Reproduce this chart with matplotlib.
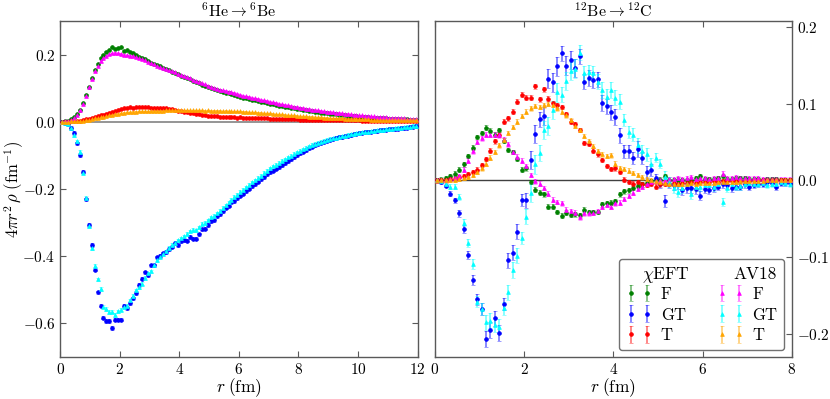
#!/usr/bin/env python

import numpy as np
import matplotlib as mpl
import matplotlib.pyplot as plt
from matplotlib.ticker import MultipleLocator
from matplotlib.lines import Line2D

mpl.rc('font', family='serif', serif=['cmr10'], size=11)
mpl.rc('mathtext', fontset='cm')
mpl.rc('axes', edgecolor='0.35', linewidth=1.0, unicode_minus=True)
mpl.rc('axes.formatter', use_mathtext=True)
mpl.rc(('xtick', 'ytick'), direction='in', color='0.35', labelcolor='k')
mpl.rc('xtick.major', size=4)
mpl.rc('ytick.major', size=4)

# ---------------- 6He -> 6Be (bin centres 0.05 ... 11.95 fm)
r_he = np.arange(120) * 0.1 + 0.05

he_F_chi = [
    0.000, 0.001, 0.003, 0.007, 0.013, 0.022, 0.036, 0.055, 0.080, 0.105,
    0.130, 0.155, 0.172, 0.190, 0.200, 0.208, 0.213, 0.222, 0.218, 0.220,
    0.222, 0.211, 0.213, 0.208, 0.204, 0.199, 0.194, 0.190, 0.186, 0.181,
    0.176, 0.172, 0.168, 0.165, 0.161, 0.157, 0.153, 0.149, 0.146, 0.142,
    0.138, 0.134, 0.131, 0.127, 0.123, 0.119, 0.115, 0.111, 0.107, 0.103,
    0.100, 0.097, 0.094, 0.091, 0.089, 0.087, 0.085, 0.083, 0.080, 0.077,
    0.075, 0.072, 0.070, 0.068, 0.066, 0.064, 0.062, 0.060, 0.058, 0.056,
    0.054, 0.052, 0.050, 0.048, 0.046, 0.045, 0.043, 0.041, 0.040, 0.038,
    0.037, 0.035, 0.034, 0.032, 0.031, 0.030, 0.028, 0.027, 0.026, 0.025,
    0.024, 0.023, 0.022, 0.021, 0.020, 0.019, 0.018, 0.017, 0.017, 0.016,
    0.015, 0.014, 0.014, 0.013, 0.012, 0.012, 0.011, 0.011, 0.010, 0.010,
    0.009, 0.009, 0.008, 0.008, 0.007, 0.007, 0.007, 0.006, 0.006, 0.006,
]
he_GT_chi = [
    0.000, -0.004, -0.008, -0.018, -0.033, -0.064, -0.099, -0.149, -0.231, -0.308,
    -0.367, -0.441, -0.508, -0.548, -0.584, -0.594, -0.594, -0.614, -0.590, -0.590,
    -0.590, -0.549, -0.555, -0.541, -0.526, -0.510, -0.486, -0.467, -0.449, -0.456,
    -0.428, -0.428, -0.404, -0.400, -0.392, -0.388, -0.379, -0.372, -0.362, -0.368,
    -0.356, -0.353, -0.354, -0.343, -0.348, -0.348, -0.335, -0.320, -0.318, -0.307,
    -0.296, -0.294, -0.282, -0.275, -0.267, -0.256, -0.250, -0.240, -0.236, -0.228,
    -0.220, -0.214, -0.206, -0.199, -0.192, -0.186, -0.178, -0.171, -0.164, -0.157,
    -0.151, -0.146, -0.140, -0.135, -0.129, -0.123, -0.117, -0.111, -0.105, -0.099,
    -0.094, -0.089, -0.084, -0.079, -0.074, -0.069, -0.065, -0.062, -0.059, -0.056,
    -0.053, -0.050, -0.048, -0.046, -0.045, -0.043, -0.041, -0.039, -0.037, -0.035,
    -0.034, -0.032, -0.031, -0.030, -0.029, -0.028, -0.027, -0.025, -0.024, -0.023,
    -0.022, -0.022, -0.021, -0.020, -0.019, -0.018, -0.017, -0.015, -0.014, -0.013,
]
he_T_chi = [
    0.000, 0.000, 0.000, 0.001, 0.001, 0.002, 0.003, 0.005, 0.007, 0.009,
    0.012, 0.014, 0.016, 0.019, 0.021, 0.024, 0.027, 0.030, 0.032, 0.035,
    0.037, 0.040, 0.041, 0.043, 0.042, 0.044, 0.045, 0.044, 0.043, 0.043,
    0.042, 0.042, 0.042, 0.041, 0.040, 0.041, 0.039, 0.037, 0.035, 0.033,
    0.031, 0.030, 0.028, 0.027, 0.025, 0.023, 0.022, 0.021, 0.020, 0.018,
    0.017, 0.017, 0.016, 0.015, 0.015, 0.014, 0.014, 0.013, 0.013, 0.012,
    0.013, 0.012, 0.012, 0.011, 0.011, 0.011, 0.010, 0.010, 0.010, 0.010,
    0.009, 0.009, 0.009, 0.008, 0.008, 0.008, 0.007, 0.007, 0.007, 0.007,
    0.006, 0.006, 0.006, 0.006, 0.006, 0.005, 0.005, 0.005, 0.005, 0.005,
    0.005, 0.005, 0.004, 0.004, 0.004, 0.004, 0.004, 0.004, 0.004, 0.004,
    0.004, 0.003, 0.003, 0.003, 0.003, 0.003, 0.003, 0.003, 0.003, 0.003,
    0.003, 0.003, 0.002, 0.002, 0.002, 0.002, 0.002, 0.002, 0.002, 0.002,
]
he_F_av18 = [
    0.000, 0.001, 0.003, 0.006, 0.012, 0.021, 0.034, 0.052, 0.077, 0.103,
    0.127, 0.150, 0.167, 0.181, 0.190, 0.197, 0.201, 0.204, 0.205, 0.204,
    0.202, 0.199, 0.198, 0.197, 0.197, 0.194, 0.190, 0.187, 0.183, 0.179,
    0.175, 0.171, 0.167, 0.164, 0.160, 0.157, 0.153, 0.150, 0.147, 0.143,
    0.140, 0.137, 0.133, 0.130, 0.126, 0.122, 0.119, 0.115, 0.112, 0.108,
    0.105, 0.102, 0.099, 0.096, 0.094, 0.092, 0.090, 0.088, 0.086, 0.083,
    0.081, 0.078, 0.076, 0.074, 0.072, 0.070, 0.068, 0.066, 0.064, 0.062,
    0.060, 0.058, 0.056, 0.054, 0.052, 0.050, 0.049, 0.047, 0.045, 0.044,
    0.042, 0.041, 0.039, 0.038, 0.036, 0.035, 0.034, 0.032, 0.031, 0.030,
    0.029, 0.028, 0.027, 0.026, 0.025, 0.024, 0.023, 0.022, 0.021, 0.020,
    0.019, 0.019, 0.018, 0.017, 0.016, 0.016, 0.015, 0.014, 0.014, 0.013,
    0.012, 0.012, 0.011, 0.011, 0.010, 0.010, 0.009, 0.009, 0.008, 0.008,
]
he_GT_av18 = [
    0.000, -0.003, -0.008, -0.019, -0.040, -0.058, -0.090, -0.152, -0.226, -0.310,
    -0.376, -0.429, -0.469, -0.498, -0.551, -0.558, -0.567, -0.566, -0.576, -0.565,
    -0.560, -0.552, -0.548, -0.532, -0.518, -0.502, -0.492, -0.482, -0.465, -0.452,
    -0.446, -0.428, -0.412, -0.402, -0.394, -0.386, -0.376, -0.366, -0.360, -0.353,
    -0.347, -0.341, -0.334, -0.326, -0.322, -0.323, -0.314, -0.305, -0.302, -0.294,
    -0.285, -0.280, -0.273, -0.265, -0.257, -0.249, -0.240, -0.232, -0.224, -0.217,
    -0.209, -0.202, -0.195, -0.188, -0.180, -0.174, -0.166, -0.160, -0.153, -0.146,
    -0.139, -0.133, -0.128, -0.123, -0.117, -0.112, -0.106, -0.101, -0.096, -0.091,
    -0.086, -0.082, -0.077, -0.073, -0.069, -0.066, -0.063, -0.059, -0.057, -0.054,
    -0.051, -0.049, -0.047, -0.045, -0.043, -0.041, -0.039, -0.037, -0.036, -0.034,
    -0.032, -0.031, -0.030, -0.029, -0.028, -0.026, -0.025, -0.024, -0.023, -0.022,
    -0.021, -0.020, -0.019, -0.018, -0.017, -0.016, -0.015, -0.014, -0.013, -0.012,
]
he_T_av18 = [
    0.000, 0.000, 0.000, 0.001, 0.001, 0.002, 0.002, 0.003, 0.005, 0.006,
    0.008, 0.010, 0.011, 0.013, 0.015, 0.017, 0.019, 0.021, 0.022, 0.024,
    0.025, 0.027, 0.028, 0.029, 0.030, 0.030, 0.031, 0.031, 0.032, 0.032,
    0.032, 0.033, 0.033, 0.033, 0.033, 0.034, 0.034, 0.034, 0.034, 0.035,
    0.035, 0.035, 0.034, 0.035, 0.034, 0.034, 0.034, 0.034, 0.033, 0.034,
    0.033, 0.033, 0.033, 0.033, 0.032, 0.033, 0.032, 0.032, 0.032, 0.031,
    0.031, 0.030, 0.030, 0.029, 0.029, 0.028, 0.027, 0.027, 0.026, 0.025,
    0.025, 0.024, 0.023, 0.023, 0.022, 0.021, 0.020, 0.020, 0.019, 0.018,
    0.017, 0.017, 0.016, 0.015, 0.015, 0.014, 0.014, 0.013, 0.012, 0.012,
    0.011, 0.011, 0.010, 0.010, 0.010, 0.009, 0.009, 0.008, 0.008, 0.008,
    0.007, 0.007, 0.007, 0.007, 0.006, 0.006, 0.006, 0.006, 0.005, 0.005,
    0.005, 0.005, 0.005, 0.004, 0.004, 0.004, 0.004, 0.004, 0.004, 0.004,
]
he_err = {'F': 0.002, 'GT': 0.005, 'T': 0.0015}

# ---------------- 12Be -> 12C (bin centres 0.05 ... 7.95 fm)
r_be = np.arange(80) * 0.1 + 0.05

be_F_chi = [
    0.000, 0.001, 0.003, 0.006, 0.009, 0.014, 0.021, 0.032, 0.043, 0.057,
    0.062, 0.069, 0.065, 0.060, 0.066, 0.052, 0.040, 0.037, 0.028, 0.014,
    0.016, -0.002, -0.012, -0.016, -0.018, -0.034, -0.034, -0.041, -0.046, -0.042,
    -0.045, -0.044, -0.045, -0.038, -0.041, -0.041, -0.041, -0.031, -0.030, -0.029,
    -0.027, -0.018, -0.014, -0.013, -0.010, -0.007, -0.005, -0.003, -0.001, 0.000,
    0.001, 0.006, 0.001, 0.000, 0.001, 0.000, 0.000, 0.001, 0.003, 0.006,
    0.002, 0.002, 0.002, 0.003, 0.006, 0.002, 0.002, 0.003, 0.003, 0.003,
    0.002, 0.002, 0.002, 0.000, 0.002, 0.002, 0.002, 0.000, 0.000, 0.000,
]
be_GT_chi = [
    0.000, -0.002, -0.007, -0.017, -0.026, -0.043, -0.063, -0.097, -0.130, -0.155,
    -0.168, -0.207, -0.195, -0.180, -0.199, -0.161, -0.104, -0.094, -0.067, -0.025,
    -0.026, 0.027, 0.061, 0.080, 0.084, 0.133, 0.128, 0.149, 0.166, 0.150,
    0.157, 0.147, 0.162, 0.129, 0.134, 0.131, 0.132, 0.101, 0.097, 0.089,
    0.083, 0.059, 0.038, 0.038, 0.029, 0.041, 0.029, 0.011, 0.014, 0.003,
    -0.004, -0.027, -0.004, -0.006, -0.005, -0.013, -0.010, -0.010, -0.011, -0.020,
    -0.011, -0.013, -0.010, -0.008, -0.005, -0.006, -0.010, -0.008, -0.008, -0.005,
    -0.008, -0.006, -0.005, -0.005, -0.002, -0.003, -0.008, -0.003, -0.003, -0.003,
]
be_T_chi = [
    0.000, 0.000, 0.001, 0.002, 0.002, 0.004, 0.006, 0.008, 0.011, 0.014,
    0.020, 0.028, 0.039, 0.051, 0.060, 0.077, 0.081, 0.090, 0.103, 0.112,
    0.108, 0.108, 0.123, 0.106, 0.119, 0.107, 0.101, 0.098, 0.096, 0.087,
    0.077, 0.074, 0.066, 0.049, 0.048, 0.039, 0.034, 0.027, 0.019, 0.015,
    0.016, 0.011, 0.001, -0.002, -0.004, -0.002, -0.005, -0.006, -0.004, -0.008,
    -0.005, -0.004, -0.004, -0.003, -0.004, -0.003, -0.003, -0.002, -0.003, -0.002,
    -0.002, -0.002, -0.001, -0.002, -0.001, -0.001, -0.001, -0.001, -0.001, -0.001,
    -0.001, 0.000, 0.000, 0.000, 0.000, 0.000, 0.000, 0.000, 0.000, 0.000,
]
be_F_av18 = [
    0.000, 0.000, 0.000, 0.002, 0.003, 0.006, 0.014, 0.026, 0.038, 0.050,
    0.055, 0.060, 0.060, 0.060, 0.059, 0.054, 0.047, 0.037, 0.031, 0.026,
    0.019, 0.007, -0.001, -0.004, -0.010, -0.017, -0.025, -0.028, -0.030, -0.038,
    -0.040, -0.042, -0.048, -0.043, -0.043, -0.042, -0.040, -0.034, -0.032, -0.034,
    -0.030, -0.029, -0.024, -0.020, -0.016, -0.011, -0.008, -0.005, -0.002, -0.001,
    0.000, 0.001, 0.002, 0.002, 0.003, 0.002, 0.003, 0.004, 0.002, 0.003,
    0.003, 0.002, 0.003, 0.003, 0.009, 0.003, 0.003, 0.004, 0.003, 0.003,
    0.003, 0.003, 0.003, 0.002, 0.002, 0.002, 0.002, 0.001, 0.001, 0.001,
]
be_GT_av18 = [
    0.000, -0.001, -0.004, -0.008, -0.008, -0.021, -0.055, -0.082, -0.109, -0.158,
    -0.168, -0.185, -0.183, -0.188, -0.191, -0.167, -0.146, -0.117, -0.098, -0.075,
    -0.047, -0.016, 0.021, 0.036, 0.066, 0.071, 0.092, 0.115, 0.112, 0.130,
    0.143, 0.146, 0.167, 0.140, 0.141, 0.140, 0.129, 0.118, 0.109, 0.118,
    0.108, 0.103, 0.079, 0.063, 0.060, 0.046, 0.038, 0.034, 0.022, 0.030,
    0.022, 0.005, -0.002, -0.010, -0.015, -0.010, -0.005, -0.018, -0.008, -0.008,
    -0.006, -0.006, -0.009, -0.005, -0.028, -0.010, -0.005, -0.008, -0.007, -0.004,
    -0.003, -0.005, -0.004, -0.003, -0.006, -0.004, -0.004, -0.002, -0.003, -0.004,
]
be_T_av18 = [
    0.000, 0.000, 0.000, 0.001, 0.001, 0.002, 0.003, 0.005, 0.007, 0.011,
    0.016, 0.022, 0.030, 0.037, 0.046, 0.053, 0.062, 0.070, 0.077, 0.084,
    0.090, 0.094, 0.097, 0.096, 0.098, 0.100, 0.099, 0.094, 0.090, 0.085,
    0.079, 0.071, 0.066, 0.058, 0.051, 0.045, 0.038, 0.034, 0.032, 0.033,
    0.022, 0.016, 0.015, 0.013, 0.010, 0.007, 0.004, 0.002, 0.000, -0.001,
    -0.002, -0.003, -0.004, -0.004, -0.004, -0.004, -0.004, -0.003, -0.004, -0.003,
    -0.003, -0.003, -0.003, -0.002, -0.002, -0.002, -0.002, -0.002, -0.001, -0.001,
    -0.001, -0.001, -0.001, -0.001, 0.000, 0.000, 0.000, 0.000, 0.000, 0.000,
]
be_GT_err = [
    0.001, 0.002, 0.002, 0.003, 0.003, 0.004, 0.005, 0.005, 0.006, 0.007,
    0.008, 0.010, 0.010, 0.010, 0.010, 0.008, 0.010, 0.010, 0.010, 0.008,
    0.010, 0.012, 0.012, 0.010, 0.012, 0.012, 0.012, 0.012, 0.010, 0.012,
    0.012, 0.012, 0.010, 0.010, 0.010, 0.010, 0.010, 0.010, 0.010, 0.010,
    0.010, 0.010, 0.008, 0.008, 0.008, 0.010, 0.008, 0.008, 0.008, 0.006,
    0.006, 0.008, 0.006, 0.006, 0.006, 0.006, 0.006, 0.006, 0.006, 0.006,
    0.005, 0.005, 0.005, 0.005, 0.005, 0.005, 0.005, 0.005, 0.005, 0.005,
    0.004, 0.004, 0.004, 0.004, 0.004, 0.004, 0.004, 0.004, 0.004, 0.004,
]
be_err = {'F': 0.003, 'T': 0.003}

colors = {
    ('chi', 'F'): 'green', ('chi', 'GT'): 'blue', ('chi', 'T'): 'red',
    ('av18', 'F'): 'magenta', ('av18', 'GT'): 'cyan', ('av18', 'T'): 'orange',
}
markers = {'chi': 'o', 'av18': '^'}


def draw(ax, x, y, err, model, kind):
    c = colors[(model, kind)]
    h = ax.errorbar(
        x, y, yerr=err,
        fmt=markers[model],
        ms=2.7,
        mew=0.5,
        color=c,
        mec=c,
        ecolor=mpl.colors.to_rgba(c, 0.55),
        elinewidth=1.2,
        capsize=1.2,
        capthick=0.8,
        zorder=3,
    )
    return h


def main() -> None:

    fig, (ax0, ax1) = plt.subplots(1, 2, figsize=(8.3, 3.99), dpi=100)
    fig.subplots_adjust(left=0.0727, right=0.954, bottom=0.106, top=0.947,
                        wspace=0.048)

    # 6He -> 6Be
    draw(ax0, r_he, he_F_chi, he_err['F'], 'chi', 'F')
    draw(ax0, r_he, he_GT_chi, he_err['GT'], 'chi', 'GT')
    draw(ax0, r_he, he_T_chi, he_err['T'], 'chi', 'T')
    draw(ax0, r_he, he_F_av18, he_err['F'], 'av18', 'F')
    draw(ax0, r_he, he_GT_av18, he_err['GT'], 'av18', 'GT')
    draw(ax0, r_he, he_T_av18, he_err['T'], 'av18', 'T')
    ax0.axhline(0, color='0.55', lw=1.3, zorder=1)

    ax0.set_xlim(0, 12)
    ax0.set_ylim(-0.7, 0.3)
    ax0.xaxis.set_major_locator(MultipleLocator(2))
    ax0.yaxis.set_major_locator(MultipleLocator(0.2))
    ax0.tick_params(top=True, right=True)
    ax0.set_title(r'$^{6}\mathrm{He}\rightarrow{}^{6}\mathrm{Be}$', fontsize=11.5, pad=3)
    ax0.set_xlabel(r'$r\;(\mathrm{fm})$', fontsize=12.5, labelpad=0)
    ax0.set_ylabel(r'$4\pi r^2\,\rho\;(\mathrm{fm}^{-1})$', fontsize=12)
    ax0.yaxis.set_label_coords(-0.097, 0.5)

    # 12Be -> 12C
    h = {}
    h['chi', 'F'] = draw(ax1, r_be, be_F_chi, be_err['F'], 'chi', 'F')
    h['chi', 'GT'] = draw(ax1, r_be, be_GT_chi, be_GT_err, 'chi', 'GT')
    h['chi', 'T'] = draw(ax1, r_be, be_T_chi, be_err['T'], 'chi', 'T')
    h['av18', 'F'] = draw(ax1, r_be, be_F_av18, be_err['F'], 'av18', 'F')
    h['av18', 'GT'] = draw(ax1, r_be, be_GT_av18, be_GT_err, 'av18', 'GT')
    h['av18', 'T'] = draw(ax1, r_be, be_T_av18, be_err['T'], 'av18', 'T')
    ax1.axhline(0, color='0.25', lw=1.0, zorder=1)

    ax1.set_xlim(0, 8)
    ax1.set_ylim(-0.23, 0.208)
    ax1.xaxis.set_major_locator(MultipleLocator(2))
    ax1.yaxis.set_major_locator(MultipleLocator(0.1))
    ax1.yaxis.tick_right()
    ax1.tick_params(top=True, left=False, right=True)
    ax1.set_title(r'$^{12}\mathrm{Be}\rightarrow{}^{12}\mathrm{C}$', fontsize=11.5, pad=3)
    ax1.set_xlabel(r'$r\;(\mathrm{fm})$', fontsize=12.5, labelpad=0)

    # legend: header rows are left blank and labelled by hand afterwards
    blank = Line2D([], [], ls='none')
    handles = [blank, h['chi', 'F'], h['chi', 'GT'], h['chi', 'T'],
               blank, h['av18', 'F'], h['av18', 'GT'], h['av18', 'T']]
    labels = [' ', 'F', 'GT', 'T', ' ', 'F', 'GT', 'T']
    leg = ax1.legend(
        handles, labels,
        ncol=2,
        loc='lower right',
        numpoints=2,
        fontsize=12,
        handlelength=1.6,
        handletextpad=0.5,
        columnspacing=1.9,
        labelspacing=0.33,
        borderpad=0.4,
        borderaxespad=0,
        bbox_to_anchor=(0.978, 0.02),
        fancybox=True,
    )
    leg.get_frame().set_edgecolor('0.3')
    leg.get_frame().set_linewidth(1.0)

    fig.canvas.draw()
    texts = leg.get_texts()
    W, H = fig.canvas.get_width_height()
    for head, lab, txt in [(texts[0], texts[1], r'$\chi$EFT'),
                           (texts[4], texts[5], 'AV18')]:
        eh = head.get_window_extent()
        el = lab.get_window_extent()
        fig.text((el.x0 - 19) / W, (eh.y0 + eh.y1) / 2 / H - 0.004, txt,
                 fontsize=12.5, ha='left', va='center')

    fig.savefig('out.png', dpi=100)


if __name__ == '__main__':
    main()
